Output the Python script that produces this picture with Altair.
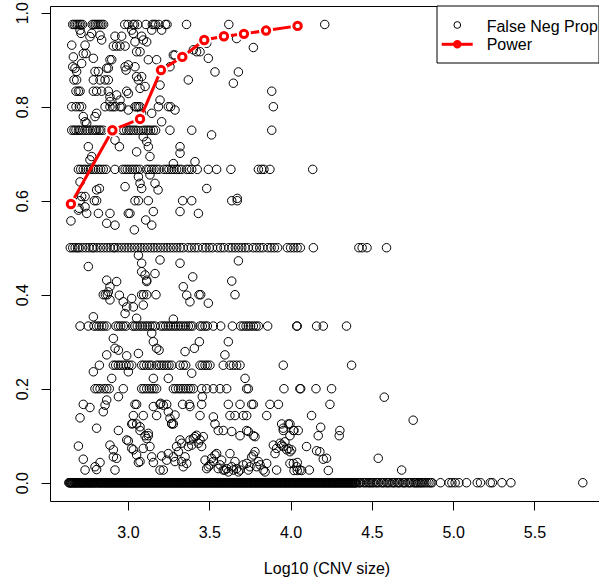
import altair as alt
import pandas as pd

# ---------------- data ----------------
# points lying on exact fraction levels: x positions (log10 CNV size) per level
lv_0975 = [2.66, 2.67, 2.68, 2.69, 2.70, 2.71, 2.72, 2.78, 2.79, 2.80, 2.81, 2.82, 2.83, 2.84, 2.85,
           2.98, 3.00, 3.03, 3.04, 3.06, 3.11, 3.15, 3.16, 3.17, 3.19, 3.23, 3.24, 3.36, 3.62, 4.21]
lv_0800 = [2.654, 2.680, 2.701, 2.715, 2.859, 2.889, 2.906, 2.920, 2.951, 2.961, 3.043, 3.053, 3.064,
           3.074, 3.187, 3.248, 3.262, 3.894]
lv_0750 = [2.654, 2.668, 2.680, 2.695, 2.705, 2.721, 2.736, 2.750, 2.766, 2.783, 2.797, 2.807, 2.822,
           2.832, 2.848, 2.889, 2.920, 2.961, 2.975, 2.992, 3.006, 3.018, 3.033, 3.049, 3.064, 3.080,
           3.094, 3.111, 3.125, 3.139, 3.156, 3.170, 3.258, 3.392, 3.884]
lv_0667 = [2.695, 2.709, 2.725, 2.740, 2.756, 2.770, 2.787, 2.801, 2.818, 2.832, 2.848, 2.865, 2.920,
           2.967, 2.982, 2.996, 3.012, 3.027, 3.043, 3.057, 3.074, 3.115, 3.129, 3.146, 3.160, 3.176,
           3.191, 3.221, 3.238, 3.252, 3.269, 3.283, 3.299, 3.314, 3.330, 3.361, 3.375, 3.392, 3.426,
           3.494, 3.545, 3.633, 3.802, 3.822, 3.836, 3.873, 4.136]
lv_0600 = [2.705, 2.793, 2.807, 3.043, 3.064, 3.125, 3.336, 3.392, 3.638, 3.672]
lv_0500 = [2.645, 2.66, 2.675, 2.69, 2.70, 2.72, 2.74, 2.76, 2.78, 2.79, 2.81, 2.83, 2.85, 2.87, 2.89,
           2.91, 2.92, 2.94, 2.96, 2.98, 3.00, 3.02, 3.04, 3.06, 3.08, 3.10, 3.12, 3.14, 3.16, 3.18,
           3.20, 3.22, 3.24, 3.26, 3.28, 3.30, 3.32, 3.34, 3.37, 3.39, 3.41, 3.43, 3.46, 3.48, 3.50,
           3.52, 3.55, 3.57, 3.59, 3.62, 3.64, 3.66, 3.68, 3.70, 3.72, 3.74, 3.77, 3.79, 3.81, 3.83,
           3.86, 3.88, 3.90, 3.92, 3.98, 4.00, 4.02, 4.04, 4.06, 4.14, 4.42, 4.44, 4.47, 4.59]
lv_0400 = [2.848, 2.861, 2.873, 3.084, 3.096, 3.115, 3.172, 3.437, 3.447, 3.658]
lv_0333 = [2.705, 2.756, 2.791, 2.807, 2.822, 2.838, 2.852, 2.869, 2.926, 2.941, 2.955, 2.971, 2.988,
           3.029, 3.043, 3.057, 3.074, 3.088, 3.105, 3.119, 3.135, 3.150, 3.166, 3.201, 3.217, 3.232,
           3.248, 3.262, 3.279, 3.293, 3.310, 3.324, 3.340, 3.355, 3.371, 3.385, 3.398, 3.443, 3.457,
           3.474, 3.488, 3.525, 3.570, 3.642, 3.693, 3.709, 3.726, 3.740, 3.754, 3.771, 3.787, 3.802,
           3.859, 4.037, 4.041, 4.160, 4.201, 4.344]
lv_0250 = [2.824, 2.910, 2.924, 2.941, 2.955, 2.971, 2.988, 3.006, 3.023, 3.084, 3.098, 3.115, 3.131,
           3.146, 3.176, 3.191, 3.207, 3.221, 3.238, 3.252, 3.269, 3.320, 3.340, 3.355, 3.443, 3.457,
           3.474, 3.488, 3.504, 3.586, 3.627, 3.648, 3.668, 3.689, 3.955]
lv_0200 = [2.797, 2.811, 2.828, 2.852, 2.869, 2.885, 2.971, 3.084, 3.098, 3.115, 3.131, 3.146, 3.160,
           3.176, 3.279, 3.293, 3.310, 3.324, 3.340, 3.355, 3.371, 3.385, 3.402, 3.453, 3.484, 3.525,
           3.566, 3.607, 3.730, 3.740, 3.959, 4.057, 4.062, 4.156, 4.252]
lv_0167 = [2.725, 3.043, 3.053, 3.197, 3.238, 3.336, 3.377, 3.453, 3.617, 3.689, 3.761, 3.771, 3.873,
           3.925, 4.242]
lv_0143 = [3.033, 3.094, 3.176, 3.443, 3.627, 3.658, 3.709, 3.730, 3.853, 4.129]
lv_0125 = [3.023, 3.053, 3.269, 3.279, 3.535, 3.945, 3.986, 3.996]
lv_0111 = [2.941, 3.074, 3.555, 3.586, 3.730, 3.955, 4.017, 4.047, 4.021, 4.303]
lv_0100 = [3.105, 3.125, 3.689, 3.771, 3.996, 4.170, 4.299]
lv_0000 = [
    2.636, 2.644, 2.651, 2.659, 2.668, 2.676, 2.683, 2.692, 2.701, 2.709,
    2.716, 2.725, 2.733, 2.742, 2.751, 2.758, 2.767, 2.776, 2.784, 2.793,
    2.801, 2.812, 2.820, 2.829, 2.838, 2.846, 2.855, 2.864, 2.873, 2.881,
    2.890, 2.899, 2.907, 2.916, 2.925, 2.934, 2.942, 2.951, 2.960, 2.968,
    2.977, 2.986, 2.994, 3.003, 3.012, 3.020, 3.029, 3.038, 3.047, 3.055,
    3.064, 3.073, 3.081, 3.090, 3.099, 3.108, 3.116, 3.125, 3.134, 3.142,
    3.151, 3.160, 3.169, 3.177, 3.186, 3.195, 3.203, 3.212, 3.221, 3.230,
    3.238, 3.247, 3.256, 3.264, 3.273, 3.282, 3.291, 3.299, 3.308, 3.317,
    3.325, 3.334, 3.343, 3.352, 3.360, 3.369, 3.378, 3.386, 3.395, 3.404,
    3.413, 3.421, 3.430, 3.439, 3.447, 3.456, 3.465, 3.474, 3.482, 3.491,
    3.500, 3.508, 3.517, 3.526, 3.535, 3.543, 3.552, 3.561, 3.569, 3.578,
    3.587, 3.596, 3.604, 3.613, 3.622, 3.630, 3.639, 3.648, 3.657, 3.665,
    3.674, 3.683, 3.691, 3.700, 3.709, 3.718, 3.726, 3.735, 3.744, 3.752,
    3.761, 3.770, 3.779, 3.787, 3.796, 3.805, 3.813, 3.822, 3.831, 3.840,
    3.848, 3.857, 3.866, 3.874, 3.883, 3.892, 3.901, 3.909, 3.918, 3.927,
    3.935, 3.944, 3.953, 3.962, 3.970, 3.979, 3.988, 3.996, 4.005, 4.014,
    4.023, 4.031, 4.040, 4.049, 4.057, 4.066, 4.075, 4.084, 4.092, 4.101,
    4.110, 4.118, 4.127, 4.136, 4.145, 4.153, 4.162, 4.171, 4.179, 4.188,
    4.197, 4.206, 4.214, 4.223, 4.232, 4.240, 4.249, 4.258, 4.267, 4.275,
    4.284, 4.293, 4.301, 4.310, 4.319, 4.328, 4.336, 4.345, 4.354, 4.362,
    4.371, 4.380, 4.389, 4.397, 4.406,
    4.418, 4.431, 4.447, 4.466, 4.478, 4.493, 4.510, 4.524, 4.541, 4.557,
    4.575, 4.590, 4.606, 4.623, 4.640, 4.655, 4.672, 4.690, 4.705, 4.722,
    4.740, 4.757, 4.772, 4.781, 4.790, 4.798, 4.806, 4.815, 4.826, 4.838,
    4.851, 4.862, 4.870, 4.922, 4.975, 4.992, 5.012, 5.035, 5.082, 5.148,
    5.168, 5.228, 5.241, 5.300, 5.355, 5.797]
# further zero-proportion CNVs filling the dense band
lv_0000b = [
    2.640, 2.648, 2.655, 2.663, 2.672, 2.680, 2.688, 2.697, 2.705, 2.713,
    2.721, 2.729, 2.738, 2.746, 2.755, 2.763, 2.771, 2.780, 2.788, 2.797,
    2.806, 2.816, 2.825, 2.833, 2.842, 2.851, 2.860, 2.868, 2.877, 2.886,
    2.894, 2.903, 2.912, 2.921, 2.929, 2.938, 2.947, 2.955, 2.964, 2.973,
    2.981, 2.990, 2.999, 3.008, 3.016, 3.025, 3.034, 3.042, 3.051, 3.060,
    3.068, 3.077, 3.086, 3.095, 3.103, 3.112, 3.121, 3.129, 3.138, 3.147,
    3.156, 3.164, 3.173, 3.182, 3.190, 3.199, 3.208, 3.217, 3.225, 3.234,
    3.243, 3.251, 3.260, 3.269, 3.277, 3.286, 3.295, 3.304, 3.312, 3.321,
    3.330, 3.338, 3.347, 3.356, 3.364, 3.373, 3.382, 3.391, 3.399, 3.408,
    3.417, 3.425, 3.434, 3.443, 3.452, 3.460, 3.469, 3.478, 3.486, 3.495,
    3.504, 3.512, 3.521, 3.530, 3.539, 3.547, 3.556, 3.565, 3.573, 3.582,
    3.591, 3.600, 3.608, 3.617, 3.626, 3.634, 3.643, 3.652, 3.661, 3.669,
    3.678, 3.687, 3.695, 3.704, 3.713, 3.722, 3.730, 3.739, 3.748, 3.756,
    3.765, 3.774, 3.783, 3.791, 3.800, 3.809, 3.817, 3.826, 3.835, 3.844,
    3.852, 3.861, 3.870, 3.878, 3.887, 3.896, 3.905, 3.913, 3.922, 3.931,
    3.939, 3.948, 3.957, 3.966, 3.974, 3.983, 3.992, 4.000, 4.009, 4.018,
    4.027, 4.035, 4.044, 4.053, 4.061, 4.070, 4.079, 4.088, 4.096, 4.105,
    4.114, 4.122, 4.131, 4.140, 4.149, 4.157, 4.166, 4.175, 4.183, 4.192,
    4.201, 4.210, 4.218, 4.227, 4.236, 4.244, 4.253, 4.262, 4.271, 4.279,
    4.288, 4.297, 4.305, 4.314, 4.323, 4.332, 4.340, 4.349, 4.358, 4.366,
    4.375, 4.384, 4.393, 4.401, 4.424, 4.456, 4.485, 4.502, 4.532, 4.566,
    4.598, 4.631, 4.664, 4.697, 4.731, 4.765]

level_values = [0.975, 0.8, 0.75, 0.6667, 0.6, 0.5, 0.4, 0.3333, 0.25, 0.2,
                0.1667, 0.1429, 0.125, 0.1111, 0.1, 0.0, 0.0]
level_xs = [lv_0975, lv_0800, lv_0750, lv_0667, lv_0600, lv_0500, lv_0400, lv_0333, lv_0250, lv_0200,
            lv_0167, lv_0143, lv_0125, lv_0111, lv_0100, lv_0000, lv_0000b]

# remaining (off-level) points
scatter_x = [
    2.711, 2.705, 2.654, 2.664, 2.660, 2.674, 2.684, 2.668, 2.684, 2.680, 2.695, 2.705, 2.715, 2.725,
    2.736, 2.742, 2.766, 2.777, 2.828, 2.838, 2.787, 2.797, 2.818, 2.787, 2.828, 2.807, 2.787, 2.838,
    2.859, 2.879, 2.869, 2.879, 2.889, 2.900, 2.879, 2.889, 2.910, 2.930, 2.951, 2.982, 2.920, 2.961,
    2.930, 2.951, 2.992, 3.002, 2.982, 2.988, 3.002, 3.023, 3.033, 3.043, 3.053, 3.074, 3.043, 3.053,
    3.064, 3.084, 3.074, 3.105, 3.084, 3.094, 3.115, 3.146, 3.125, 3.176, 3.197, 3.207, 3.217, 3.258,
    3.279, 3.289, 3.330, 3.371, 3.402, 3.422, 3.443, 3.474, 3.484, 3.494, 3.535, 3.648, 3.668, 3.679,
    3.771, 3.884,
    2.725, 2.736, 2.746, 2.797, 2.807, 2.889, 3.002, 3.084, 3.146, 3.197, 3.207, 3.289,
    2.756, 2.766, 2.777, 2.705, 2.715, 2.736, 2.807, 2.824, 2.736, 2.699, 2.649, 2.695, 2.746, 2.818,
    2.869, 2.889, 2.920, 2.920, 2.947, 2.982, 3.002, 3.012, 3.039, 3.053, 3.064, 3.074, 3.084, 3.094,
    3.115, 3.125, 3.135, 3.135, 3.109, 3.146, 3.156, 3.166, 3.185, 3.320, 3.320, 3.320, 3.433, 3.279,
    3.412, 3.484, 3.514, 3.672,
    2.756, 3.064, 3.084, 3.084, 3.105, 3.115, 3.166, 3.197, 3.320, 3.340, 3.398, 3.638, 3.679,
    2.869, 2.930, 2.889, 2.879, 2.889, 2.947, 2.971, 2.982, 2.992, 3.023, 3.033, 3.053, 3.094, 3.115,
    3.361, 3.381, 3.494, 2.787, 3.279, 2.910, 2.920, 2.941, 2.992, 3.064, 3.002, 2.900, 3.146, 3.156,
    3.176, 3.191, 3.248, 3.351, 3.392, 3.408, 3.439, 3.617, 3.596, 3.720, 3.156, 2.787, 2.869, 4.375,
    4.576,
    2.705, 2.766, 2.807, 2.848, 2.695, 2.725, 2.736, 2.828, 2.807, 2.797, 2.889, 2.910, 2.920, 2.910,
    2.930, 2.941, 2.992, 3.002, 3.023, 3.033, 3.053, 3.064, 3.074, 3.094, 3.115, 3.135, 3.146, 3.156,
    3.207, 3.197, 3.217, 3.156, 3.201, 3.248, 3.258, 3.289, 3.269, 3.238, 3.248, 3.279, 3.289, 3.299,
    3.310, 3.320, 3.330, 3.330, 3.340, 3.351, 3.361, 3.371, 3.381, 3.392, 3.402, 3.412, 3.422, 3.433,
    3.443, 3.453, 3.463, 3.474, 3.484, 3.494, 3.504, 3.514, 3.525, 3.535, 3.545, 3.555, 3.566, 3.576,
    3.586, 3.596, 3.607, 3.617, 3.627, 3.638, 3.648, 3.658, 3.668, 3.679, 3.689, 3.709, 3.730, 3.740,
    3.750, 3.761, 3.771, 3.781, 3.791, 3.802, 3.812, 3.832, 3.843, 3.853, 3.894, 3.904, 3.914, 3.935,
    3.945, 3.955, 3.965, 3.976, 3.986, 3.996, 4.017, 4.037, 4.057, 3.914,
    2.859, 2.869, 3.029, 3.074, 3.125, 3.217, 3.381, 3.457, 3.525, 3.638, 3.740, 3.781, 3.955,
    3.996, 4.006, 4.041, 4.021, 4.041, 4.068, 4.115, 4.098, 4.160, 4.180, 4.185, 4.201, 4.221, 4.232,
    4.539, 4.683, 4.754]
scatter_y = [
    0.956, 0.963, 0.931, 0.906, 0.885, 0.882, 0.875, 0.857, 0.857, 0.833, 0.833, 0.833, 0.892, 0.913,
    0.931, 0.913, 0.949, 0.956, 0.952, 0.942, 0.903, 0.875, 0.875, 0.857, 0.857, 0.833, 0.833, 0.833,
    0.857, 0.857, 0.882, 0.882, 0.900, 0.900, 0.833, 0.821, 0.929, 0.929, 0.929, 0.929, 0.950, 0.950,
    0.825, 0.814, 0.833, 0.828, 0.885, 0.878, 0.889, 0.963, 0.956, 0.938, 0.917, 0.917, 0.885, 0.864,
    0.857, 0.864, 0.839, 0.843, 0.950, 0.942, 0.938, 0.963, 0.900, 0.900, 0.846, 0.963, 0.878, 0.885,
    0.910, 0.910, 0.906, 0.857, 0.921, 0.917, 0.917, 0.945, 0.935, 0.903, 0.874, 0.850, 0.945, 0.874,
    0.926, 0.833,
    0.779, 0.768, 0.765, 0.779, 0.786, 0.811, 0.793, 0.786, 0.786, 0.814, 0.768, 0.793,
    0.715, 0.687, 0.694, 0.640, 0.609, 0.609, 0.623, 0.626, 0.587, 0.584, 0.557, 0.580, 0.573, 0.573,
    0.552, 0.573, 0.548, 0.729, 0.715, 0.630, 0.573, 0.573, 0.538, 0.704, 0.651, 0.637, 0.626, 0.736,
    0.726, 0.715, 0.694, 0.655, 0.559, 0.548, 0.577, 0.637, 0.623, 0.715, 0.701, 0.577, 0.573, 0.679,
    0.683, 0.626, 0.740, 0.605,
    0.460, 0.484, 0.467, 0.449, 0.442, 0.431, 0.445, 0.474, 0.467, 0.417, 0.438, 0.429, 0.472,
    0.431, 0.428, 0.417, 0.406, 0.389, 0.399, 0.385, 0.360, 0.374, 0.392, 0.374, 0.350, 0.378, 0.428,
    0.399, 0.385, 0.382, 0.353, 0.348, 0.307, 0.286, 0.282, 0.270, 0.275, 0.236, 0.222, 0.318, 0.300,
    0.286, 0.282, 0.222, 0.279, 0.233, 0.286, 0.300, 0.300, 0.272, 0.222, 0.222, 0.236, 0.272, 0.250,
    0.182,
    0.138, 0.160, 0.116, 0.151, 0.078, 0.050, 0.027, 0.043, 0.028, 0.034, 0.080, 0.070, 0.027, 0.055,
    0.052, 0.183, 0.091, 0.089, 0.073, 0.070, 0.059, 0.043, 0.045, 0.073, 0.094, 0.077, 0.055, 0.043,
    0.057, 0.027, 0.027, 0.162, 0.169, 0.151, 0.137, 0.144, 0.126, 0.048, 0.062, 0.055, 0.045, 0.077,
    0.066, 0.091, 0.084, 0.045, 0.034, 0.055, 0.041, 0.077, 0.091, 0.080, 0.094, 0.098, 0.101, 0.084,
    0.091, 0.077, 0.098, 0.048, 0.030, 0.034, 0.038, 0.052, 0.045, 0.059, 0.062, 0.030, 0.038, 0.048,
    0.027, 0.027, 0.030, 0.023, 0.062, 0.034, 0.027, 0.045, 0.030, 0.023, 0.027, 0.038, 0.041, 0.027,
    0.034, 0.055, 0.059, 0.066, 0.034, 0.045, 0.038, 0.027, 0.023, 0.041, 0.080, 0.062, 0.073, 0.084,
    0.080, 0.077, 0.087, 0.070, 0.073, 0.066, 0.041, 0.034, 0.027, 0.027,
    0.165, 0.176, 0.126, 0.119, 0.105, 0.165, 0.162, 0.183, 0.140, 0.109, 0.109, 0.098, 0.116,
    0.041, 0.070, 0.043, 0.026, 0.026, 0.026, 0.027, 0.077, 0.068, 0.066, 0.118, 0.050, 0.052, 0.026,
    0.052, 0.027, 0.133]

# power curve
power_x = [2.649, 2.904, 3.074, 3.203, 3.334, 3.469, 3.590, 3.713, 3.849, 4.043]
power_y = [0.593, 0.750, 0.774, 0.878, 0.906, 0.942, 0.950, 0.955, 0.962, 0.972]

legend_labels = ["False Neg Prop", "Power"]
x_ticks = [3.0, 3.5, 4.0, 4.5, 5.0, 5.5]
y_ticks = [0.0, 0.2, 0.4, 0.6, 0.8, 1.0]

# ---------------- build tables ----------------
rows_x, rows_y = [], []
for yv, xs in zip(level_values, level_xs):
    rows_x += xs
    rows_y += [yv] * len(xs)
n_sc = min(len(scatter_x), len(scatter_y))
rows_x += scatter_x[:n_sc]
rows_y += scatter_y[:n_sc]
pts = pd.DataFrame({"x": rows_x, "y": rows_y})
pw = pd.DataFrame({"x": power_x, "y": power_y})
one = pd.DataFrame({"k": [0]})

FONT = "Liberation Sans"
x_scale = alt.Scale(domain=[2.5203, 5.8967], nice=False, zero=False)
y_scale = alt.Scale(domain=[-0.0389, 1.0143], nice=False, zero=False)
x_axis = alt.Axis(values=x_ticks, format=".1f", grid=False, domain=False, tickSize=9,
                  tickColor="black", labelFontSize=16, labelFont=FONT, labelColor="black",
                  labelBaseline="alphabetic", labelPadding=27, labelFlush=False,
                  title="Log10 (CNV size)", titleFont=FONT, titleFontSize=16,
                  titleFontWeight="normal", titleColor="black", titleX=276.5, titleY=72,
                  titleAlign="center", titleBaseline="alphabetic")
y_axis = alt.Axis(values=y_ticks, format=".1f", grid=False, domain=False, tickSize=9,
                  tickColor="black", labelFontSize=16, labelFont=FONT, labelColor="black",
                  labelAngle=270, labelAlign="center", labelBaseline="alphabetic",
                  labelPadding=14, labelFlush=False, title=None)

X = alt.X("x:Q", scale=x_scale, axis=x_axis)
Y = alt.Y("y:Q", scale=y_scale, axis=y_axis)

scatter = alt.Chart(pts).mark_point(shape="circle", filled=False, color="black",
                                    size=72, strokeWidth=1, opacity=1).encode(x=X, y=Y)
line = alt.Chart(pw).mark_line(color="red", strokeWidth=3).encode(x=X, y=Y)
halo = alt.Chart(pw).mark_point(shape="circle", filled=True, color="white", size=200,
                                strokeWidth=0, opacity=1).encode(x=X, y=Y)
pdots = alt.Chart(pw).mark_point(shape="circle", filled=False, color="red", size=55,
                                 strokeWidth=3, opacity=1).encode(x=X, y=Y)

# legend (top right, inside plot)
leg_box = alt.Chart(one).mark_rect(fill="white", stroke="black", strokeWidth=1).encode(
    x=alt.value(387), x2=alt.value(549), y=alt.value(0), y2=alt.value(57))
leg_circ = alt.Chart(one).mark_point(shape="circle", filled=False, color="black", size=45,
                                     strokeWidth=1, opacity=1).encode(
    x=alt.value(407.3), y=alt.value(19))
leg_line = alt.Chart(one).mark_rule(color="red", strokeWidth=3).encode(
    x=alt.value(391.7), x2=alt.value(422.7), y=alt.value(38.3))
leg_dot = alt.Chart(one).mark_point(shape="circle", filled=False, color="red", size=30,
                                    strokeWidth=3, opacity=1).encode(
    x=alt.value(407.3), y=alt.value(38.3))
leg_t1 = alt.Chart(one).mark_text(text=legend_labels[0], align="left", baseline="alphabetic",
                                  font=FONT, fontSize=16, color="black").encode(
    x=alt.value(436.7), y=alt.value(25.5))
leg_t2 = alt.Chart(one).mark_text(text=legend_labels[1], align="left", baseline="alphabetic",
                                  font=FONT, fontSize=16, color="black").encode(
    x=alt.value(436.7), y=alt.value(44.2))

chart = alt.layer(scatter, line, halo, pdots, leg_box, leg_circ, leg_line, leg_dot,
                  leg_t1, leg_t2).properties(
    width=549, height=495,
    padding={"left": 50, "top": 6, "right": 0, "bottom": 80},
    autosize=alt.AutoSizeParams(type="none"),
    background="white",
).configure_view(stroke="black", strokeWidth=1)

chart.save("out.html", embed_options={"renderer": "svg", "actions": False})
